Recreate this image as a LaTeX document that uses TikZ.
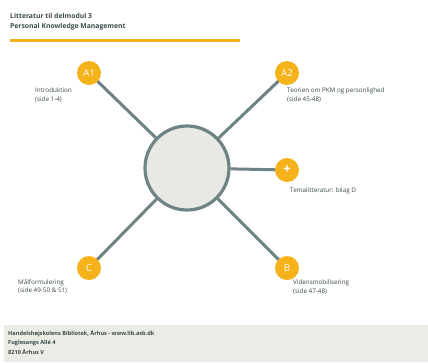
\documentclass[tikz,border=0pt]{standalone}
\usepackage{fontspec}
\setmainfont{Open Sans}
\definecolor{orng}{HTML}{F5B21B}
\definecolor{lgray}{HTML}{6F8385}
\definecolor{cfill}{HTML}{E8E9E3}
\definecolor{foot}{HTML}{ECECE6}
\definecolor{txt}{HTML}{3A4A4C}
\begin{document}
\begin{tikzpicture}[x=1pt,y=-1pt,
  badge/.style={circle,fill=orng,minimum size=24pt,inner sep=0pt,text=white,font=\fontsize{9.5}{9.5}\selectfont},
  conn/.style={draw=lgray,line width=3pt},
  lbl/.style={font=\fontsize{6.3}{8.5}\selectfont,text=txt,align=left,inner sep=0pt,anchor=north west}]
\useasboundingbox (0,0) rectangle (428,362);
\fill[white] (0,0) rectangle (428,362);
\node[anchor=north west,inner sep=0pt,align=left,text=txt,font=\fontsize{6.8}{10}\selectfont\bfseries] (title) at (10,13) {Litteratur til delmodul 3\\Personal Knowledge Management};
\fill[orng] (10,39) rectangle (240,42);
\node[circle,draw=lgray,line width=3.2pt,fill=cfill,minimum size=84pt,inner sep=0pt] (hub) at (187,168) {};
\coordinate (pa1) at (89,73);
\coordinate (pa2) at (287,73);
\coordinate (ppl) at (287,170);
\coordinate (pc) at (89,268);
\coordinate (pb) at (287,268);
\draw[conn] (pa1) -- (hub);
\draw[conn] (pa2) -- (hub);
\draw[conn] (ppl) -- (hub);
\draw[conn] (pc) -- (hub);
\draw[conn] (pb) -- (hub);
\node[badge] (a1) at (pa1) {A1};
\node[badge] (a2) at (pa2) {A2};
\node[badge,font=\fontsize{13}{13}\selectfont\bfseries] (pl) at (ppl) {+};
\node[badge] (c) at (pc) {C};
\node[badge] (b) at (pb) {B};
\node[lbl] (la1) at (35,88) {Introduktion\\(side 1-4)};
\node[lbl] (la2) at (287,88) {Teorien om PKM og personlighed\\(side 45-48)};
\node[lbl] (lpl) at (290,188) {Temalitteratur: bilag D};
\node[lbl] (lc) at (18,279) {Målformulering\\(side 49-50 \& 51)};
\node[lbl] (lb) at (293,280) {Vidensmobilisering\\(side 47-48)};
\fill[foot] (4,325) rectangle (428,362);
\node[anchor=north west,inner sep=0pt,align=left,text=txt,font=\fontsize{5.6}{9.5}\selectfont\bfseries] (ft) at (8,330) {Handelshøjskolens Bibliotek, Århus - www.lib.asb.dk\\Fuglesangs Allé 4\\8210 Århus V};
\end{tikzpicture}
\end{document}
